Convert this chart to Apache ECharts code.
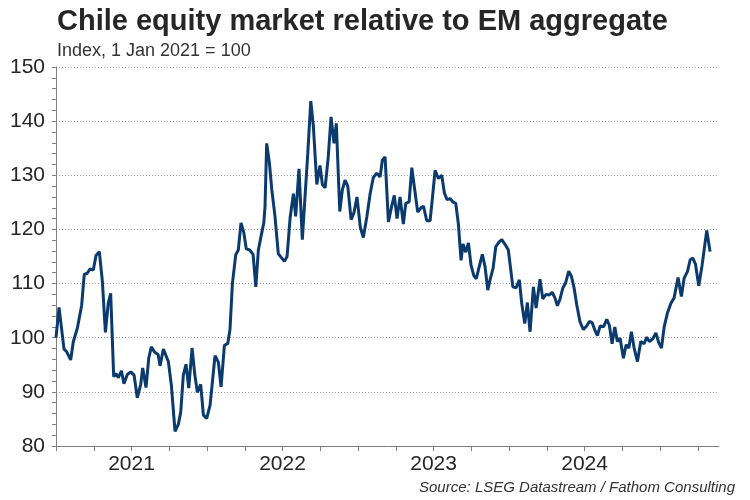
<!DOCTYPE html>
<html>
<head>
<meta charset="utf-8">
<script src="https://cdn.jsdelivr.net/npm/echarts@6/dist/echarts.min.js"></script>
<style>
html,body{margin:0;padding:0;background:#fff;}
#chart{width:750px;height:500px;}
</style>
</head>
<body>
<div id="chart"></div>
<script>
// Time positions in decimal years (weekly-ish readings)
const yearPos = [
2021.000,2021.020,2021.053,2021.071,2021.097,2021.115,2021.141,2021.170,2021.187,2021.207,
2021.225,2021.247,2021.265,2021.287,2021.307,2021.327,2021.346,2021.362,2021.382,2021.397,
2021.413,2021.433,2021.450,2021.472,2021.495,2021.517,2021.538,2021.561,2021.574,2021.596,
2021.614,2021.631,2021.654,2021.676,2021.689,2021.711,2021.744,2021.764,2021.788,2021.810,
2021.826,2021.843,2021.861,2021.879,2021.901,2021.919,2021.936,2021.958,2021.976,2021.998,
2022.020,2022.053,2022.075,2022.093,2022.115,2022.137,2022.152,2022.168,2022.190,2022.207,
2022.225,2022.243,2022.260,2022.283,2022.305,2022.323,2022.340,2022.358,2022.376,2022.384,
2022.395,2022.413,2022.429,2022.450,2022.472,2022.495,2022.512,2022.530,2022.550,2022.572,
2022.587,2022.609,2022.631,2022.649,2022.667,2022.687,2022.704,2022.727,2022.748,2022.764,
2022.782,2022.803,2022.821,2022.841,2022.856,2022.879,2022.896,2022.914,2022.932,2022.954,
2022.972,2022.993,2023.015,2023.035,2023.058,2023.080,2023.101,2023.124,2023.146,2023.161,
2023.179,2023.201,2023.223,2023.240,2023.258,2023.278,2023.300,2023.316,2023.338,2023.356,
2023.373,2023.395,2023.417,2023.433,2023.455,2023.477,2023.492,2023.510,2023.532,2023.554,
2023.572,2023.589,2023.609,2023.627,2023.647,2023.664,2023.682,2023.695,2023.713,2023.731,
2023.748,2023.766,2023.783,2023.801,2023.823,2023.841,2023.859,2023.876,2023.894,2023.912,
2023.934,2023.952,2023.974,2023.995,2024.025,2024.046,2024.068,2024.084,2024.104,2024.121,
2024.139,2024.161,2024.179,2024.205,2024.223,2024.245,2024.267,2024.285,2024.303,2024.320,
2024.338,2024.356,2024.373,2024.395,2024.413,2024.431,2024.448,2024.470,2024.492,2024.515,
2024.532,2024.550,2024.568,2024.585,2024.603,2024.625,2024.647,2024.664,2024.682,2024.700,
2024.717,2024.735,2024.757,2024.775,2024.793,2024.810,2024.828,2024.850,2024.872,2024.894,
2024.912,2024.929,2024.952,2024.972,2024.991,2025.009,2025.027,2025.048,2025.071,2025.093,
2025.119,2025.141,2025.159,2025.181,2025.199,2025.217,2025.234,2025.256,2025.278,2025.309,
2025.331
];
// Chile vs EM relative index (1 Jan 2021 = 100)
const values = [
100.0,105.6,97.9,97.4,95.9,99.3,101.7,106.0,111.7,111.9,
112.7,112.5,115.2,115.9,110.4,101.0,106.4,108.2,92.8,93.4,
92.6,93.9,91.5,93.2,93.7,93.1,88.9,91.4,94.4,90.8,
96.2,98.3,97.3,96.9,94.8,97.9,95.6,91.2,82.7,84.0,
86.3,93.1,95.1,90.7,98.1,93.2,89.9,91.4,85.7,85.1,
87.5,96.7,95.5,90.9,98.6,98.9,101.5,110.0,115.3,116.2,
121.2,119.5,116.4,116.2,115.4,109.4,116.2,118.8,121.2,124.2,
135.9,132.3,127.3,122.4,115.5,114.7,114.1,115.0,122.1,126.6,
122.4,131.2,118.1,126.1,134.0,143.7,139.1,128.3,131.8,128.3,
127.7,133.5,140.8,135.9,139.6,123.3,127.3,129.1,128.0,121.8,
123.0,126.0,120.4,118.5,122.3,126.6,129.6,130.4,129.7,132.8,
133.4,121.4,124.3,126.3,122.0,126.0,121.0,124.8,125.1,131.4,
127.8,123.2,124.0,124.3,121.6,121.6,125.7,130.9,129.4,130.0,
126.7,125.5,125.7,125.1,124.8,121.1,114.3,117.3,115.8,117.5,
113.4,111.5,110.9,113.0,115.4,113.1,108.8,110.9,112.8,116.8,
117.7,118.1,117.2,116.2,109.4,109.2,110.7,106.3,102.6,106.5,
101.1,109.4,105.5,110.8,107.2,108.0,107.9,108.4,107.4,105.9,
107.2,109.2,110.0,112.3,111.3,109.1,106.1,102.9,101.5,102.2,
103.0,102.8,101.4,100.4,102.2,102.0,103.4,102.3,98.9,102.0,
99.3,99.9,96.2,98.7,98.1,101.1,98.1,95.6,99.3,98.9,
100.1,99.3,99.8,100.9,99.1,98.1,102.0,104.5,106.3,107.4,
111.1,107.6,111.0,112.2,114.4,114.7,113.6,109.6,113.4,119.8,
115.9
];
const yTicks = [80, 90, 100, 110, 120, 130, 140, 150];
const yearLabels = ['2021', '2022', '2023', '2024'];

const font = 'Liberation Sans, Arial, sans-serif';
const chart = echarts.init(document.getElementById('chart'));
chart.setOption({
  animation: false,
  backgroundColor: '#ffffff',
  title: [
    { text: 'Chile equity market relative to EM aggregate', left: 52, top: 2,
      textStyle: { fontFamily: font, fontSize: 29, fontWeight: 'bold', color: '#262626' } },
    { text: 'Index, 1 Jan 2021 = 100', left: 52, top: 37,
      textStyle: { fontFamily: font, fontSize: 18, fontWeight: 'normal', color: '#333333' } },
    { text: 'Source: LSEG Datastream / Fathom Consulting', right: 10, bottom: 0,
      textStyle: { fontFamily: font, fontSize: 15, fontStyle: 'italic', fontWeight: 'normal', color: '#333333' } }
  ],
  grid: { left: 56, right: 31, top: 67, bottom: 54, containLabel: false },
  xAxis: {
    type: 'value',
    min: 2021, max: 2025.39, interval: 0.25,
    axisLine: { show: true, lineStyle: { color: '#7f7f7f', width: 1 } },
    axisTick: { show: true, inside: false, length: 5, lineStyle: { color: '#7f7f7f' } },
    splitLine: { show: false },
    axisLabel: {
      fontFamily: font, fontSize: 21, color: '#262626', margin: 8,
      showMaxLabel: false,
      formatter: function (v) {
        const f = v - Math.floor(v);
        if (Math.abs(f - 0.5) < 0.01) {
          const s = String(Math.floor(v));
          return yearLabels.indexOf(s) >= 0 ? s : '';
        }
        return '';
      }
    }
  },
  yAxis: {
    type: 'value',
    min: yTicks[0], max: yTicks[yTicks.length - 1], interval: 10,
    axisLine: { show: true, lineStyle: { color: '#7f7f7f', width: 1 } },
    axisTick: { show: true, inside: false, length: 4, lineStyle: { color: '#7f7f7f' } },
    minorTick: { show: true, splitNumber: 5, length: 4, lineStyle: { color: '#7f7f7f' } },
    splitLine: { show: true, lineStyle: { color: '#9a9a9a', type: [1, 2], width: 1 } },
    axisLabel: { fontFamily: font, fontSize: 21, color: '#262626', margin: 11 }
  },
  series: [{
    type: 'line',
    data: yearPos.map((t, i) => [t, values[i]]),
    showSymbol: false,
    symbol: 'none',
    lineStyle: { color: '#0b3a6e', width: 3 },
    z: 5
  }]
});
</script>
</body>
</html>
